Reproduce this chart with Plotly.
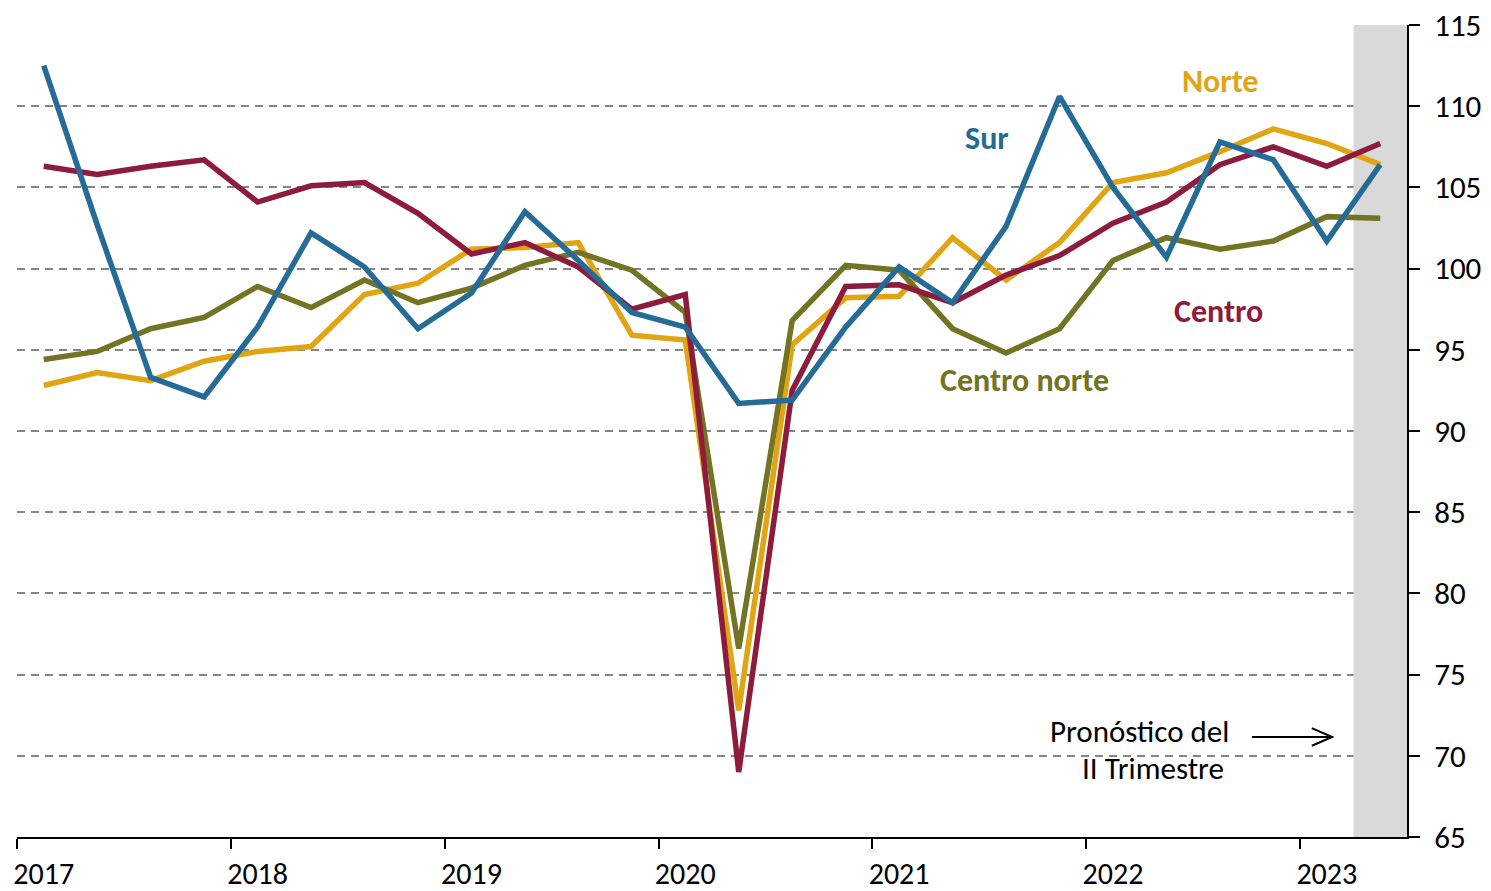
import plotly.graph_objects as go

quarters = list(range(26))
year_labels = ["2017", "2018", "2019", "2020", "2021", "2022", "2023"]
year_label_pos = [0, 4, 8, 12, 16, 20, 24]

sur = [112.5, 102.7, 93.3, 92.1, 96.4, 102.2, 100.1, 96.3, 98.5, 103.5, 100.5, 97.3, 96.4,
       91.7, 91.9, 96.4, 100.1, 97.9, 102.6, 110.6, 105.0, 100.7, 107.8, 106.7, 101.7, 106.4]
centro = [106.3, 105.8, 106.3, 106.7, 104.1, 105.1, 105.3, 103.4, 100.9, 101.6, 100.1, 97.5, 98.4,
          69.0, 92.5, 98.9, 99.0, 97.9, 99.6, 100.8, 102.8, 104.1, 106.4, 107.5, 106.3, 107.7]
norte = [92.8, 93.6, 93.1, 94.3, 94.9, 95.2, 98.4, 99.1, 101.2, 101.3, 101.6, 95.9, 95.6,
         72.8, 95.3, 98.2, 98.3, 101.9, 99.3, 101.6, 105.3, 105.9, 107.2, 108.6, 107.7, 106.4]
centro_norte = [94.4, 94.9, 96.3, 97.0, 98.9, 97.6, 99.3, 97.9, 98.8, 100.2, 101.0, 99.9, 97.3,
                76.6, 96.8, 100.2, 99.9, 96.3, 94.8, 96.3, 100.5, 101.9, 101.2, 101.7, 103.2, 103.1]

colors = {"Norte": "#E1A513", "Centro norte": "#737324", "Centro": "#8C1B3C", "Sur": "#256B98"}

fig = go.Figure()
for name, vals in [("Norte", norte), ("Centro norte", centro_norte), ("Centro", centro), ("Sur", sur)]:
    fig.add_trace(go.Scatter(x=quarters, y=vals, mode="lines", name=name,
                             line=dict(color=colors[name], width=5.5)))

# forecast band (last quarter)
fig.add_shape(type="rect", xref="x", yref="y", x0=24.5, x1=25.5, y0=65, y1=115,
              fillcolor="#D9D9D9", line_width=0, layer="between")

font_family = "Carlito, Lato, sans-serif"
lbl = [("Norte", 22.0, 111.55), ("Sur", 17.64, 108.0), ("Centro", 21.97, 97.33), ("Centro norte", 18.34, 93.08)]
for name, x, y in lbl:
    fig.add_annotation(x=x, y=y, text="<b>%s</b>" % name, showarrow=False,
                       font=dict(family=font_family, size=32, color=colors[name]))

fig.add_annotation(x=20.5, y=71.5, text="Pronóstico del", showarrow=False,
                   font=dict(family=font_family, size=31, color="black"))
fig.add_annotation(x=20.75, y=69.25, text="II Trimestre", showarrow=False,
                   font=dict(family=font_family, size=31, color="black"))
# arrow
fig.add_shape(type="line", x0=22.6, x1=24.1, y0=71.16, y1=71.16, line=dict(color="black", width=2))
fig.add_shape(type="path", path="M 23.72 71.7 L 24.1 71.16 L 23.72 70.62",
              line=dict(color="black", width=2))

fig.update_layout(
    width=1491, height=891,
    margin=dict(l=17, r=84, t=25, b=54, autoexpand=False),
    paper_bgcolor="white", plot_bgcolor="white",
    showlegend=False,
    font=dict(family=font_family, color="black"),
    xaxis=dict(range=[-0.5, 25.5], showgrid=False, zeroline=False, automargin=False,
               showline=True, linecolor="black", linewidth=2,
               tickmode="array", tickvals=year_label_pos, ticktext=year_labels,
               ticks="", ticklabelstandoff=9,
               tickfont=dict(size=30, family=font_family, color="black"),
               minor=dict(ticks="outside", tick0=-0.5, dtick=4, ticklen=10, tickwidth=2,
                          tickcolor="black", showgrid=False)),
    yaxis=dict(range=[65, 115], side="right", showline=True, linecolor="black", linewidth=2,
               ticks="outside", ticklen=11, tickwidth=2, tickcolor="black",
               tickmode="linear", tick0=65, dtick=5, automargin=False,
               showgrid=True, gridcolor="#858585", gridwidth=2, griddash="8px,6px",
               zeroline=False, ticklabelstandoff=8,
               tickfont=dict(size=31, family=font_family, color="black")),
)

fig.write_html("out.html", config={"displayModeBar": False},
               post_script="document.body.style.margin='0px';document.body.style.overflow='hidden';")
